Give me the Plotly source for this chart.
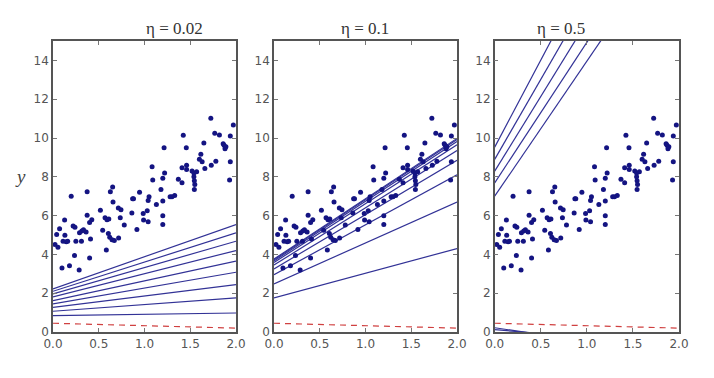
import plotly.graph_objects as go

# Scatter data (shared by all panels)
X = [1.725, 1.971, 1.424, 1.768, 1.819, 1.938, 1.649, 1.214, 1.457, 1.86, 1.87, 1.88, 1.89,
     1.616, 1.60, 1.63, 1.66, 1.73, 1.78, 1.938, 1.083, 1.41, 1.46, 1.46, 1.52, 1.54, 1.57,
     1.54, 1.545, 1.55, 1.545, 1.93, 1.09, 1.22, 1.20, 1.37, 1.41, 1.18, 1.33, 1.28, 1.30,
     1.20, 1.13, 1.20, 1.20, 1.05, 1.04, 0.946, 0.87, 0.88, 0.862, 0.917, 0.986, 1.03, 0.99,
     1.04, 0.652, 0.627, 0.656, 0.714, 0.743, 0.735, 0.779, 0.518, 0.569, 0.59, 0.61, 0.543,
     0.605, 0.62, 0.645, 0.67, 0.717, 0.583, 0.373, 0.199, 0.373, 0.424, 0.40, 0.127, 0.22,
     0.24, 0.333, 0.362, 0.29, 0.315, 0.072, 0.04, 0.13, 0.25, 0.311, 0.11, 0.145, 0.16,
     0.41, 0.022, 0.054, 0.235, 0.40, 0.098, 0.18, 0.286]
Y = [11.02, 10.67, 10.14, 10.24, 10.16, 10.10, 9.74, 9.50, 9.50, 9.70, 9.62, 9.45, 9.55,
     9.16, 8.90, 8.78, 8.43, 8.60, 8.80, 8.78, 8.52, 8.47, 8.60, 8.38, 8.30, 8.20, 8.26,
     8.00, 7.80, 7.60, 7.35, 7.83, 7.83, 8.19, 7.92, 7.87, 7.69, 7.35, 7.04, 6.97, 6.97,
     6.75, 6.57, 5.99, 5.54, 6.97, 6.78, 7.21, 6.87, 6.87, 6.14, 5.28, 6.11, 6.25, 5.77,
     5.68, 7.47, 7.23, 6.70, 6.39, 6.30, 5.89, 5.51, 6.28, 5.89, 5.78, 5.82, 5.25,
     5.08, 4.89, 4.75, 4.72, 4.85, 4.23, 7.23, 7.00, 6.02, 5.78, 5.65, 5.77, 5.46,
     5.40, 5.27, 5.15, 5.11, 5.20, 5.32, 5.03, 4.99, 4.68, 4.68, 4.68, 4.65, 4.68,
     4.80, 4.51, 4.37, 3.94, 3.82, 3.30, 3.41, 3.20]

# Initial model (red dashed)
init_theta0 = 0.45
init_theta1 = -0.125

# Model parameters per iteration, per learning rate
etas = ["0.02", "0.1", "0.5"]
theta0_sets = [
    [0.84, 1.07, 1.27, 1.45, 1.62, 1.81, 1.96, 2.10, 2.22],
    [1.76, 2.48, 2.95, 3.25, 3.45, 3.58, 3.66, 3.72, 3.76],
    [7.00, 7.69, 8.29, 8.90, 9.53, 0.22, 0.12],
]
theta1_sets = [
    [0.07, 0.345, 0.585, 0.815, 1.015, 1.195, 1.36, 1.505, 1.66],
    [1.27, 2.11, 2.575, 2.80, 2.95, 3.035, 3.08, 3.10, 3.11],
    [6.96, 7.24, 7.70, 8.24, 8.97, -0.70, -0.40],
]

x_ticks = [0.0, 0.5, 1.0, 1.5, 2.0]
y_ticks = [0, 2, 4, 6, 8, 10, 12, 14]

fig = go.Figure()
domains = [(0.0, 0.2923), (0.353, 0.6454), (0.7056, 1.0)]
xs_line = [0, 2]

for i in range(3):
    xa = "x" if i == 0 else f"x{i+1}"
    ya = "y" if i == 0 else f"y{i+1}"
    for t0, t1 in zip(theta0_sets[i], theta1_sets[i]):
        fig.add_trace(go.Scatter(x=xs_line, y=[t0 + t1 * v for v in xs_line], mode="lines",
                                 line=dict(color="rgb(50,50,150)", width=1.2),
                                 xaxis=xa, yaxis=ya, showlegend=False, hoverinfo="skip"))
    fig.add_trace(go.Scatter(x=xs_line, y=[init_theta0 + init_theta1 * v for v in xs_line],
                             mode="lines", line=dict(color="#d04040", width=1.2, dash="6px,5px"),
                             xaxis=xa, yaxis=ya, showlegend=False, hoverinfo="skip"))
    fig.add_trace(go.Scatter(x=X, y=Y, mode="markers",
                             marker=dict(color="rgb(20,20,130)", size=5),
                             xaxis=xa, yaxis=ya, showlegend=False, cliponaxis=False))
    axcommon = dict(showgrid=False, zeroline=False, showline=True, linecolor="#555",
                    linewidth=1.5, mirror="ticks", ticks="inside", ticklen=4,
                    tickcolor="#777", tickfont=dict(family="DejaVu Sans", size=12, color="#555"))
    xkey = "xaxis" if i == 0 else f"xaxis{i+1}"
    ykey = "yaxis" if i == 0 else f"yaxis{i+1}"
    fig.update_layout(**{
        xkey: dict(domain=list(domains[i]), range=[0, 2], anchor=ya, tickvals=x_ticks,
                   ticktext=[f"{v:.1f}" for v in x_ticks], **axcommon),
        ykey: dict(domain=[0, 1], range=[0, 15], anchor=xa, tickvals=y_ticks, **axcommon),
    })
    fig.add_annotation(text=f"η = {etas[i]}", x=(domains[i][0] + domains[i][1]) / 2,
                       y=1.0, xref="paper", yref="paper", yanchor="bottom", yshift=1,
                       showarrow=False, font=dict(family="Liberation Serif", size=17, color="#333"))

fig.add_annotation(text="<i>y</i>", x=-0.04, y=8, xref="paper", yref="y",
                   showarrow=False, xanchor="right",
                   font=dict(family="Liberation Serif", size=19, color="#444"))

fig.update_layout(width=714, height=378, margin=dict(l=45, r=43, t=33, b=54),
                  paper_bgcolor="white", plot_bgcolor="white")

fig.write_html("out.html")
